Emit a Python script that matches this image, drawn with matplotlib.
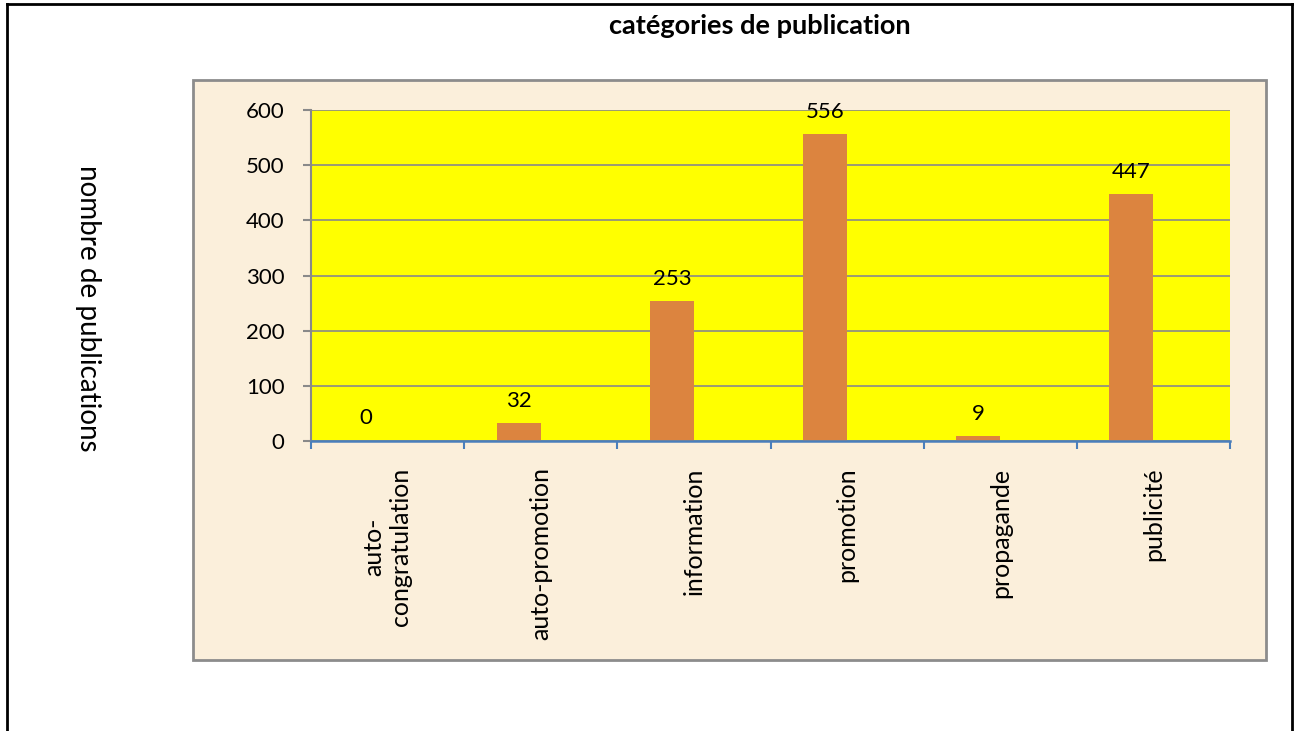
import matplotlib
matplotlib.use("Agg")
import matplotlib.pyplot as plt
from matplotlib.patches import Rectangle
from matplotlib.lines import Line2D
import numpy as np

plt.rcParams['font.family'] = ['Lato', 'DejaVu Sans']

categories = ["auto-\ncongratulation", "auto-promotion", "information",
              "promotion", "propagande", "publicité"]
valeurs = [0, 32, 253, 556, 9, 447]
yticks = [0, 100, 200, 300, 400, 500, 600]

W, H = 1297, 731
fig = plt.figure(figsize=(W / 100, H / 100), dpi=100)
fig.patch.set_facecolor("white")

# cadre du tableau (bord noir)
fig.add_artist(Line2D([7 / W, 7 / W], [0, 1 - 4 / H], color="black", lw=2))
fig.add_artist(Line2D([7 / W, 1292 / W], [1 - 4 / H, 1 - 4 / H], color="black", lw=2))
fig.add_artist(Line2D([1292 / W, 1292 / W], [0, 1 - 4 / H], color="black", lw=2))

# zone du graphique (fond parchemin)
fig.add_artist(Rectangle((193 / W, 1 - 660 / H), 1073 / W, 580 / H,
                         transform=fig.transFigure, facecolor="#FBEFDB",
                         edgecolor="#8C8C8C", lw=2, zorder=0))

ax = fig.add_axes([311 / W, 1 - 441 / H, 919 / W, 331 / H])
ax.set_facecolor("#FFFF00")

x = np.arange(len(categories))
largeur = 0.288
bars = ax.bar(x - largeur / 2, valeurs, width=largeur, color="#DC843F", zorder=3)

for b, v in zip(bars, valeurs):
    ax.annotate(str(v), (b.get_x() + b.get_width() / 2, v),
                xytext=(0, 9), textcoords="offset points",
                ha="center", va="bottom", fontsize=16, color="black",
                annotation_clip=False, zorder=4)

ax.set_xlim(-0.5, len(categories) - 0.5)
ax.set_ylim(0, 600)
ax.set_yticks(yticks)
ax.yaxis.grid(True, color="#898989", lw=1.2, zorder=1)
ax.set_axisbelow(True)

ax.set_xticks(x)
ax.set_xticklabels(categories, rotation=90, fontsize=18, va="top",
                   ha="center", multialignment="center")
ax.set_xticks(np.arange(len(categories) + 1) - 0.5, minor=True)
ax.tick_params(axis="x", which="major", length=0, pad=19)
ax.tick_params(axis="x", which="minor", length=6, width=1.5, color="#4A7EBB")
ax.tick_params(axis="y", length=6, width=1.5, color="#898989",
               labelsize=16, pad=13)

for s in ["top", "right"]:
    ax.spines[s].set_visible(False)
ax.spines["left"].set_color("#898989")
ax.spines["left"].set_linewidth(1.5)
ax.spines["bottom"].set_color("#4A7EBB")
ax.spines["bottom"].set_linewidth(1.8)
ax.spines["bottom"].set_zorder(5)

fig.text(760 / W, 1 - 26 / H, "catégories de publication",
         ha="center", va="center", fontsize=19.5, fontweight="bold")
fig.text(88 / W, 1 - 308 / H, "nombre de publications",
         rotation=270, ha="center", va="center", fontsize=20)

fig.savefig("out.png", dpi=100)
